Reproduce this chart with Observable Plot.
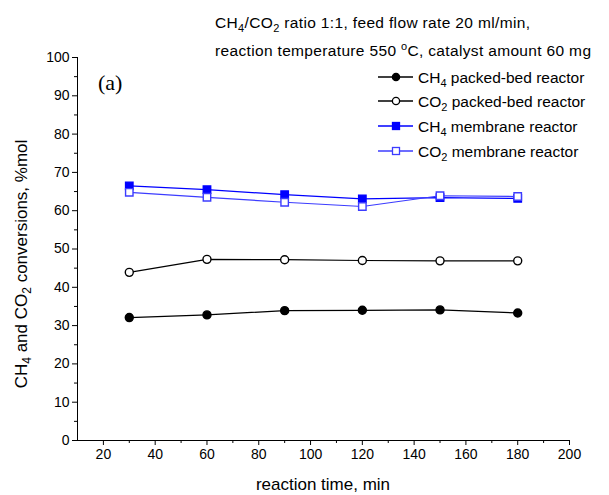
<!DOCTYPE html>
<html>
<head>
<meta charset="utf-8">
<script src="https://cdn.jsdelivr.net/npm/d3@7"></script>
<script src="https://cdn.jsdelivr.net/npm/@observablehq/plot@0.6"></script>
<style>
  html, body { margin: 0; padding: 0; background: #fff; }
  svg { display: block; }
</style>
</head>
<body>
<div id="chart"></div>
<script>
const times = [30, 60, 90, 120, 150, 180];
const ch4Packed = [32.1, 32.8, 33.9, 34.0, 34.1, 33.3];
const co2Packed = [43.9, 47.3, 47.2, 47.0, 46.9, 46.9];
const ch4Membrane = [66.5, 65.5, 64.2, 63.1, 63.4, 63.2];
const co2Membrane = [64.8, 63.5, 62.2, 61.1, 63.9, 63.7];
const xTicks = [20, 40, 60, 80, 100, 120, 140, 160, 180, 200];
const xMinor = [30, 50, 70, 90, 110, 130, 150, 170, 190];
const yTicks = [0, 10, 20, 30, 40, 50, 60, 70, 80, 90, 100];
const yMinor = [5, 15, 25, 35, 45, 55, 65, 75, 85, 95];

const seriesDefs = [
  {key: "ch4p", gas: "CH", sub: "4", name: " packed-bed reactor", values: ch4Packed, color: "#000000", fill: "#000000", symbol: "circle"},
  {key: "co2p", gas: "CO", sub: "2", name: " packed-bed reactor", values: co2Packed, color: "#000000", fill: "#ffffff", symbol: "circle"},
  {key: "ch4m", gas: "CH", sub: "4", name: " membrane reactor", values: ch4Membrane, color: "#0000ff", fill: "#0000ff", symbol: "square"},
  {key: "co2m", gas: "CO", sub: "2", name: " membrane reactor", values: co2Membrane, color: "#3c3cff", fill: "#ffffff", symbol: "square"}
];

const marks = [
  Plot.ruleX([10], {stroke: "#000", strokeWidth: 1}),
  Plot.ruleY([0], {stroke: "#000", strokeWidth: 1}),
  Plot.axisX({ticks: xTicks, tickSize: 5, tickPadding: 4, label: null, fontSize: 14}),
  Plot.axisX({ticks: xMinor, tickSize: 3, text: null, label: null}),
  Plot.axisY({ticks: yTicks, tickSize: 5, tickPadding: 3, label: null, fontSize: 14}),
  Plot.axisY({ticks: yMinor, tickSize: 3, text: null, label: null})
];
for (const s of seriesDefs) {
  const rows = times.map((t, i) => ({t, v: s.values[i]}));
  marks.push(Plot.line(rows, {x: "t", y: "v", stroke: s.color, strokeWidth: 1.2}));
  marks.push(Plot.dot(rows, {x: "t", y: "v", symbol: s.symbol, r: s.symbol === "square" ? 4.2 : 4, fill: s.fill, stroke: s.color, strokeWidth: 1.4}));
}

const svg = Plot.plot({
  width: 609,
  height: 495,
  marginLeft: 77,
  marginRight: 40,
  marginTop: 57,
  marginBottom: 55,
  style: {fontFamily: "Arial, 'Liberation Sans', sans-serif", fontSize: "14px", color: "#000", background: "#fff"},
  x: {domain: [10, 200]},
  y: {domain: [0, 100]},
  marks
});
document.getElementById("chart").appendChild(svg);

const g = d3.select(svg).append("g")
  .attr("font-family", "Arial, 'Liberation Sans', sans-serif")
  .attr("fill", "#000")
  .attr("text-anchor", "start");

const FS = 15.5, SUB = 11;

// title lines
const t1 = g.append("text").attr("x", 215).attr("y", 28).attr("font-size", FS)
  .attr("textLength", 315).attr("lengthAdjust", "spacing");
t1.append("tspan").text("CH");
t1.append("tspan").text("4").attr("font-size", SUB).attr("dy", 4);
t1.append("tspan").text("/CO").attr("dy", -4);
t1.append("tspan").text("2").attr("font-size", SUB).attr("dy", 4);
t1.append("tspan").text(" ratio 1:1, feed flow rate 20 ml/min,").attr("dy", -4);

const t2 = g.append("text").attr("x", 215).attr("y", 56).attr("font-size", FS)
  .attr("textLength", 376).attr("lengthAdjust", "spacing");
t2.append("tspan").text("reaction temperature 550 ");
t2.append("tspan").text("o").attr("font-size", SUB).attr("dy", -6);
t2.append("tspan").text("C, catalyst amount 60 mg").attr("dy", 6);

// (a)
g.append("text").attr("x", 98).attr("y", 90).attr("font-family", "'Liberation Serif', 'Times New Roman', serif").attr("font-size", 22).text("(a)");

// legend
const legendY = [77, 101, 126, 151];
seriesDefs.forEach((s, i) => {
  const y = legendY[i];
  g.append("line").attr("x1", 378).attr("x2", 413).attr("y1", y).attr("y2", y).attr("stroke", s.color).attr("stroke-width", 1.3);
  if (s.symbol === "circle") {
    g.append("circle").attr("cx", 396).attr("cy", y).attr("r", 3.6).attr("fill", s.fill).attr("stroke", s.color).attr("stroke-width", 1.3);
  } else {
    g.append("rect").attr("x", 392.5).attr("y", y - 3.5).attr("width", 7).attr("height", 7).attr("fill", s.fill).attr("stroke", s.color).attr("stroke-width", 1.3);
  }
  const tx = g.append("text").attr("x", 418).attr("y", y + 5.5).attr("font-size", FS);
  tx.append("tspan").text(s.gas);
  tx.append("tspan").text(s.sub).attr("font-size", SUB).attr("dy", 4);
  tx.append("tspan").text(s.name).attr("dy", -4);
});

// axis labels
g.append("text").attr("x", 323).attr("y", 490).attr("text-anchor", "middle").attr("font-size", 17).text("reaction time, min");

const yl = g.append("text").attr("transform", "translate(27,264) rotate(-90)").attr("text-anchor", "middle").attr("font-size", 17);
yl.append("tspan").text("CH");
yl.append("tspan").text("4").attr("font-size", 12).attr("dy", 4);
yl.append("tspan").text(" and CO").attr("dy", -4);
yl.append("tspan").text("2").attr("font-size", 12).attr("dy", 4);
yl.append("tspan").text(" conversions, %mol").attr("dy", -4);
</script>
</body>
</html>
